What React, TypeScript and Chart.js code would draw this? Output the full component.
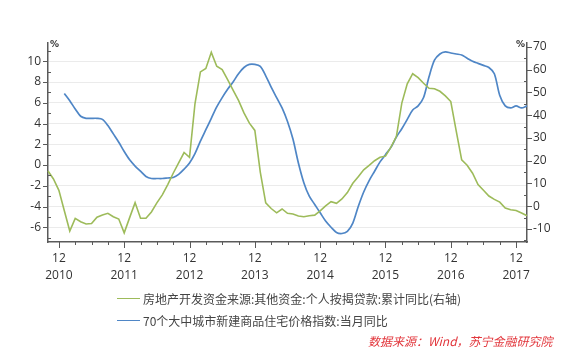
import React, { useEffect, useRef } from 'react';
import { Chart, registerables } from 'chart.js';

Chart.register(...registerables);

// Monthly categories, Oct 2010 – Feb 2018
const MONTHS: string[] = [
  '2010-10', '2010-11', '2010-12',
  '2011-01', '2011-02', '2011-03', '2011-04', '2011-05', '2011-06', '2011-07', '2011-08', '2011-09', '2011-10', '2011-11', '2011-12',
  '2012-01', '2012-02', '2012-03', '2012-04', '2012-05', '2012-06', '2012-07', '2012-08', '2012-09', '2012-10', '2012-11', '2012-12',
  '2013-01', '2013-02', '2013-03', '2013-04', '2013-05', '2013-06', '2013-07', '2013-08', '2013-09', '2013-10', '2013-11', '2013-12',
  '2014-01', '2014-02', '2014-03', '2014-04', '2014-05', '2014-06', '2014-07', '2014-08', '2014-09', '2014-10', '2014-11', '2014-12',
  '2015-01', '2015-02', '2015-03', '2015-04', '2015-05', '2015-06', '2015-07', '2015-08', '2015-09', '2015-10', '2015-11', '2015-12',
  '2016-01', '2016-02', '2016-03', '2016-04', '2016-05', '2016-06', '2016-07', '2016-08', '2016-09', '2016-10', '2016-11', '2016-12',
  '2017-01', '2017-02', '2017-03', '2017-04', '2017-05', '2017-06', '2017-07', '2017-08', '2017-09', '2017-10', '2017-11', '2017-12',
  '2018-01', '2018-02',
];

const MORTGAGE_LABEL = '房地产开发资金来源:其他资金:个人按揭贷款:累计同比(右轴)';
const PRICE_LABEL = '70个大中城市新建商品住宅价格指数:当月同比';
const SOURCE_TEXT = '数据来源：Wind，苏宁金融研究院';

// Right axis series (%)
const mortgageYoY: number[] = [
  15.5, 12, 7,
  -2, -10.9, -5.3, -6.8, -7.8, -7.6, -4.8, -3.8, -3.1, -4.6, -5.6, -11.7,
  -5, 1.6, -5.3, -5.3, -2.5, 1.5, 5, 9.5, 14.5, 19, 23.6, 21.5,
  45, 59, 60.5, 67.6, 61.5, 60, 55.6, 51, 46.5, 41, 36.5, 33.3,
  15, 1.5, -1, -2.9, -1.2, -3.1, -3.4, -4.3, -4.6, -4.2, -3.9, -2,
  0.2, 2, 1.3, 3.2, 6, 10.1, 13, 16, 18, 20, 21.5, 22,
  26, 30.6, 45.3, 53.8, 58.2, 56.5, 54, 51.8, 51.6, 50.5, 48.5, 46,
  33, 20.4, 18, 14.5, 9.5, 7, 4.5, 3, 1.8, -0.8, -1.5, -1.9,
  -3, -4.2,
];

// Left axis series (%)
const priceYoY: (number | null)[] = [
  null, null, null,
  6.9, 6.2, 5.4, 4.7, 4.5, 4.5, 4.5, 4.4, 3.8, 3.0, 2.2, 1.3,
  0.5, -0.1, -0.6, -1.1, -1.3, -1.3, -1.3, -1.25, -1.2, -0.9, -0.4, 0.2,
  1.1, 2.3, 3.4, 4.5, 5.6, 6.5, 7.3, 8.0, 8.8, 9.4, 9.7, 9.7,
  9.5, 8.6, 7.5, 6.5, 5.5, 4.2, 2.5, 0.2, -1.7, -3.0, -3.8, -4.6,
  -5.4, -6.0, -6.5, -6.6, -6.4, -5.6, -4.0, -2.6, -1.5, -0.6, 0.3, 1.0,
  1.7, 2.7, 3.5, 4.4, 5.3, 5.7, 6.5, 8.5, 10.1, 10.7, 10.9, 10.8,
  10.7, 10.6, 10.3, 10.0, 9.8, 9.6, 9.4, 8.8, 6.7, 5.7, 5.5, 5.7,
  5.5, 5.7,
];

const LEFT_TICKS = [-6, -4, -2, 0, 2, 4, 6, 8, 10];
const RIGHT_TICKS = [-10, 0, 10, 20, 30, 40, 50, 60, 70];
const LEFT_MIN = -7.42;
const LEFT_MAX = 11.76;
const RIGHT_MIN = -15.7;
const RIGHT_MAX = 71.7;

const GREEN = '#9dbb5a';
const BLUE = '#4f86c6';
const AXIS = '#5a5a5a';
const TEXT = '#333333';
const FONT = '"Open Sans", "Noto Sans", sans-serif';
const CJK = '"Noto Sans CJK SC", "Noto Sans", sans-serif';

const axisDecor = {
  id: 'axisDecor',
  afterDraw(chart: any) {
    const { ctx, chartArea: a, scales } = chart;
    const yl = scales.y;
    const yr = scales.y1;
    const xs = scales.x;
    ctx.save();
    ctx.strokeStyle = AXIS;
    ctx.lineWidth = 1;
    ctx.beginPath();
    for (let v = Math.ceil(yl.min); v <= yl.max; v += 1) {
      const py = Math.round(yl.getPixelForValue(v)) + 0.5;
      if (v % 2 === 0) {
        ctx.moveTo(a.left - 5, py);
        ctx.lineTo(a.left, py);
      } else {
        ctx.moveTo(a.left, py);
        ctx.lineTo(a.left + 3, py);
      }
    }
    for (let v = Math.ceil(yr.min / 5) * 5; v <= yr.max; v += 5) {
      const py = Math.round(yr.getPixelForValue(v)) + 0.5;
      if (v % 10 === 0) {
        ctx.moveTo(a.right, py);
        ctx.lineTo(a.right + 5, py);
      } else {
        ctx.moveTo(a.right - 3, py);
        ctx.lineTo(a.right, py);
      }
    }
    MONTHS.forEach((m, i) => {
      const mo = parseInt(m.slice(5), 10);
      if (mo % 3 !== 0) return;
      const px = Math.round(xs.getPixelForValue(i)) + 0.5;
      const len = mo === 12 ? 6 : 3;
      ctx.moveTo(px, a.bottom);
      ctx.lineTo(px, a.bottom + len);
    });
    ctx.stroke();
    ctx.fillStyle = TEXT;
    ctx.font = 'bold 9px "DejaVu Sans", sans-serif';
    ctx.textBaseline = 'middle';
    ctx.textAlign = 'left';
    ctx.fillText('%', a.left + 2, a.top + 2);
    ctx.textAlign = 'right';
    ctx.fillText('%', a.right - 2, a.top + 2);
    ctx.restore();
  },
};

export default function App() {
  const canvasRef = useRef<HTMLCanvasElement | null>(null);

  useEffect(() => {
    if (!canvasRef.current) return;
    const chart = new Chart(canvasRef.current, {
      type: 'line',
      data: {
        labels: MONTHS,
        datasets: [
          {
            label: MORTGAGE_LABEL,
            data: mortgageYoY,
            yAxisID: 'y1',
            borderColor: GREEN,
            backgroundColor: GREEN,
            borderWidth: 1.6,
            pointRadius: 0,
            tension: 0,
          },
          {
            label: PRICE_LABEL,
            data: priceYoY,
            yAxisID: 'y',
            borderColor: BLUE,
            backgroundColor: BLUE,
            borderWidth: 1.7,
            pointRadius: 0,
            tension: 0.3,
          },
        ],
      },
      options: {
        animation: false,
        responsive: true,
        maintainAspectRatio: false,
        layout: { padding: { top: 43, left: 0, right: 0, bottom: 0 } },
        plugins: {
          legend: { display: false },
          tooltip: { enabled: false },
        },
        scales: {
          x: {
            type: 'category',
            offset: false,
            grid: { display: false },
            border: { display: true, color: AXIS, width: 1.5 },
            ticks: {
              autoSkip: false,
              maxRotation: 0,
              minRotation: 0,
              padding: 0,
              color: TEXT,
              font: { family: FONT, size: 12, lineHeight: 1.4 },
              callback: (_v: any, i: number) => {
                const m = MONTHS[i];
                return m && m.endsWith('-12') ? ['12', m.slice(0, 4)] : '';
              },
            },
            afterFit: (s: any) => {
              s.height = 120;
            },
          },
          y: {
            type: 'linear',
            position: 'left',
            min: LEFT_MIN,
            max: LEFT_MAX,
            afterBuildTicks: (s: any) => {
              s.ticks = LEFT_TICKS.map((v) => ({ value: v }));
            },
            grid: { color: '#ebebeb', lineWidth: 1, drawTicks: false },
            border: { display: true, color: AXIS, width: 1.5 },
            ticks: {
              padding: 7,
              color: TEXT,
              font: { family: FONT, size: 12 },
            },
            afterFit: (s: any) => {
              s.width = 48;
            },
          },
          y1: {
            type: 'linear',
            position: 'right',
            min: RIGHT_MIN,
            max: RIGHT_MAX,
            afterBuildTicks: (s: any) => {
              s.ticks = RIGHT_TICKS.map((v) => ({ value: v }));
            },
            grid: { drawOnChartArea: false, drawTicks: false },
            border: { display: true, color: AXIS, width: 1.5 },
            ticks: {
              padding: 6,
              color: TEXT,
              font: { family: FONT, size: 12 },
              callback: (v: any) => String(v),
            },
            afterFit: (s: any) => {
              s.width = 58;
            },
          },
        },
      },
      plugins: [axisDecor],
    });
    return () => chart.destroy();
  }, []);

  const legendRow = (color: string, text: string, top: number) => (
    <div
      style={{
        position: 'absolute',
        left: 117,
        top,
        height: 22,
        display: 'flex',
        alignItems: 'center',
        whiteSpace: 'nowrap',
      }}
    >
      <span style={{ display: 'inline-block', width: 23, height: 0, borderTop: `1.5px solid ${color}`, marginRight: 3 }} />
      <span style={{ fontFamily: CJK, fontSize: 12, color: '#444' }}>{text}</span>
    </div>
  );

  return (
    <div style={{ position: 'fixed', left: 0, top: 0, width: 585, height: 362, background: '#fff' }}>
      <canvas ref={canvasRef} />
      {legendRow(GREEN, MORTGAGE_LABEL, 287)}
      {legendRow(BLUE, PRICE_LABEL, 309)}
      <div
        style={{
          position: 'absolute',
          left: 368,
          top: 332,
          fontFamily: CJK,
          fontSize: 12,
          fontStyle: 'italic',
          color: '#e2363c',
          whiteSpace: 'nowrap',
        }}
      >
        {SOURCE_TEXT}
      </div>
    </div>
  );
}
